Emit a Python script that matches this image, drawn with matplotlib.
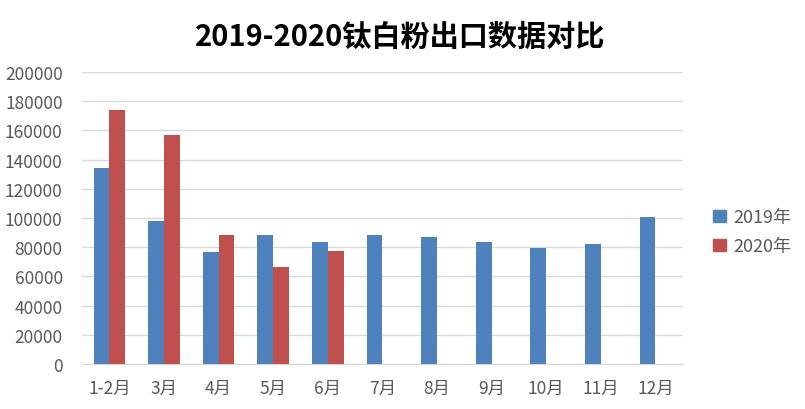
import numpy as np
import matplotlib.pyplot as plt
from matplotlib.patches import Patch

plt.rcParams['font.family'] = ['Noto Sans CJK SC', 'DejaVu Sans']

# データ
months = ['1-2月', '3月', '4月', '5月', '6月', '7月', '8月', '9月', '10月', '11月', '12月']
y2019 = [134400, 98000, 76800, 88500, 83600, 88500, 87100, 83500, 79500, 82300, 100800]
y2020 = [174000, 157000, 88500, 66500, 77500]
yticks = [0, 20000, 40000, 60000, 80000, 100000, 120000, 140000, 160000, 180000, 200000]

c19 = '#4F81BD'
c20 = '#C0504D'

fig = plt.figure(figsize=(8.05, 4.1), dpi=100)
ax = fig.add_axes([0.102, 0.110, 0.746, 0.712])

x = np.arange(len(months))
w = 0.29
ax.bar(x[:len(y2019)] - w / 2, y2019, w, color=c19, zorder=3)
ax.bar(x[:len(y2020)] + w / 2, y2020, w, color=c20, zorder=3)

ax.set_xlim(-0.5, len(months) - 0.5)
ax.set_ylim(0, 200000)
ax.set_yticks(yticks)
ax.set_yticklabels([str(v) for v in yticks])
ax.set_xticks(x)
ax.set_xticklabels(months)
ax.tick_params(axis='both', length=0, labelsize=12.5, colors='#595959')
ax.tick_params(axis='x', pad=11)
ax.tick_params(axis='y', pad=14)
ax.grid(axis='y', color='#D9D9D9', linewidth=1, zorder=0)
for s in ['top', 'right', 'left']:
    ax.spines[s].set_visible(False)
ax.spines['bottom'].set_color('#D9D9D9')

fig.text(0.497, 0.91, '2019-2020钛白粉出口数据对比', ha='center', va='center',
         fontsize=21, fontweight='bold', color='black')

handles = [Patch(color=c19, label='2019年'), Patch(color=c20, label='2020年')]
fig.legend(handles=handles, loc='center left', bbox_to_anchor=(0.866, 0.432),
           frameon=False, fontsize=13, labelcolor='#595959',
           handlelength=0.7, handleheight=0.7, handletextpad=0.4, labelspacing=0.6)

fig.savefig('out.png', dpi=100)
